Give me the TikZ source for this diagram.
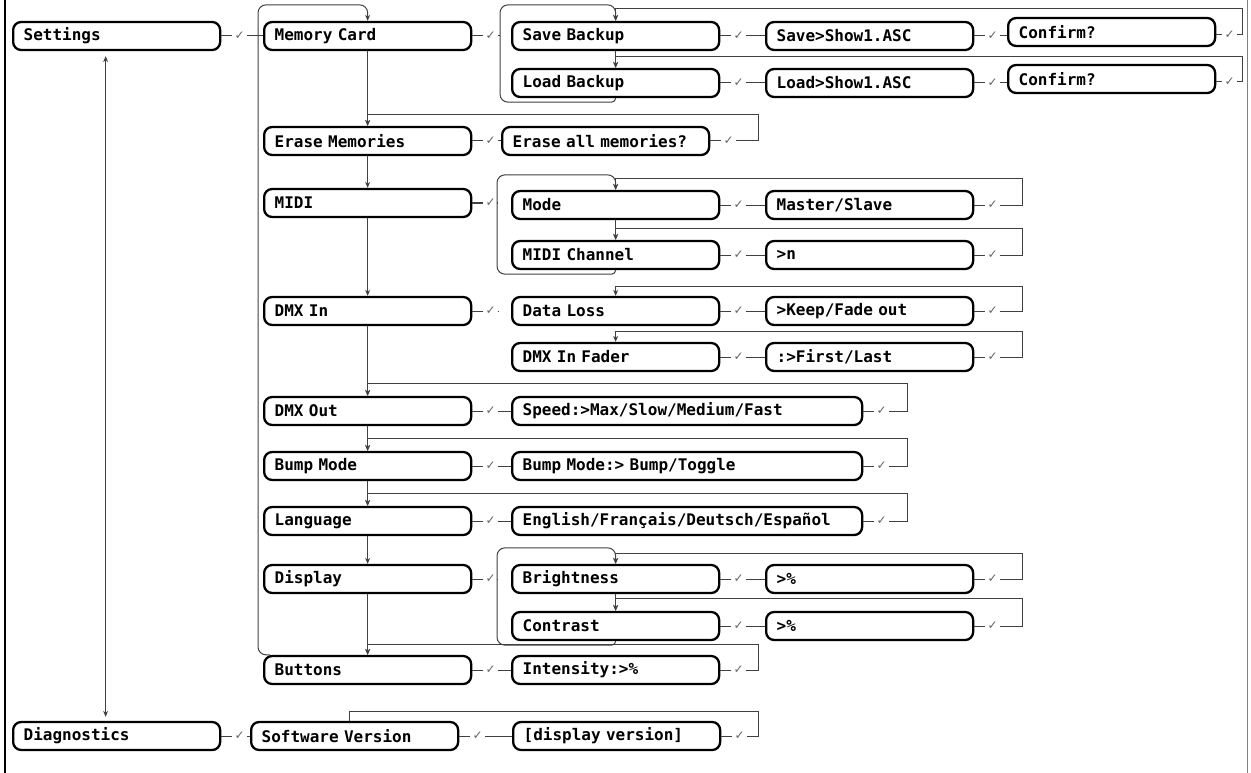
\documentclass[tikz,border=0pt]{standalone}
\usepackage{fontspec}
\usepackage{tikz}
\setmonofont{DejaVu Sans Mono}
\newfontfamily\ticksym{DejaVu Sans}
\usetikzlibrary{arrows.meta, positioning}
\definecolor{menugray}{RGB}{64,64,64}
\definecolor{tickgray}{RGB}{100,100,100}

\begin{document}
\begin{tikzpicture}[x=1pt, y=-1pt,
  item/.style={rectangle, rounded corners=8pt, draw=black, line width=2.3pt, anchor=west,
               minimum height=28pt, inner xsep=10.5pt, inner ysep=0pt, text width=#1, align=left,
               font=\ttfamily\bfseries\fontsize{16}{19}\selectfont},
  item/.default=186pt,
  ok/.style={font=\ticksym\fontsize{12}{12}\selectfont, text=tickgray, inner sep=2pt},
  link/.style={draw=menugray, line width=1pt},
  arrow/.style={link, -{Stealth[length=6pt, width=5pt]}}
]
\useasboundingbox (0,0) rectangle (1251,773);
\draw[line width=2.5pt] (5,0) -- (5,773);
\draw[gray, line width=0.8pt] (1247,0) -- (1247,773);

% top level
\node[item] (settings) at (12,36)  {Settings};
\node[item] (diag)     at (12,736) {Diagnostics};

% settings menu
\node[item] (memcard) at (263,36)  {Memory Card};
\node[item] (erase)   at (263,141) {Erase Memories};
\node[item] (midi)    at (263,203) {MIDI};
\node[item] (dmxin)   at (263,311) {DMX In};
\node[item] (dmxout)  at (263,411) {DMX Out};
\node[item] (bump)    at (263,466) {Bump Mode};
\node[item] (lang)    at (263,521) {Language};
\node[item] (disp)    at (263,579) {Display};
\node[item] (buttons) at (263,670) {Buttons};
\node[item] (software) at (250,736) {Software Version};

% sub menus
\node[item] (saveb)    at (511,36)  {Save Backup};
\node[item] (loadb)    at (511,83)  {Load Backup};
\node[item] (eraseall) at (501,141) {Erase all memories?};
\node[item] (mode)     at (511,205) {Mode};
\node[item] (midich)   at (511,255) {MIDI Channel};
\node[item] (dataloss) at (511,311) {Data Loss};
\node[item] (fader)    at (511,357) {DMX In Fader};
\node[item=329pt] (speed)   at (511,411) {Speed:>Max/Slow/Medium/Fast};
\node[item=329pt] (bumpsel) at (511,466) {Bump Mode:> Bump/Toggle};
\node[item=329pt] (langsel) at (511,521) {English/Français/Deutsch/Español};
\node[item] (bright)   at (511,579) {Brightness};
\node[item] (contrast) at (511,626) {Contrast};
\node[item] (intens)   at (511,670) {Intensity:>\%};
\node[item] (dispver)  at (512,736) {[display version]};

% values
\node[item] (savefile) at (765,36)  {Save>Show1.ASC};
\node[item] (loadfile) at (765,83)  {Load>Show1.ASC};
\node[item] (conf1)    at (1007,32) {Confirm?};
\node[item] (conf2)    at (1007,79) {Confirm?};
\node[item] (master)   at (765,205) {Master/Slave};
\node[item] (chan)     at (765,255) {>n};
\node[item] (keep)     at (765,311) {>Keep/Fade out};
\node[item] (first)    at (765,357) {:>First/Last};
\node[item] (brval)    at (765,579) {>\%};
\node[item] (ctval)    at (765,626) {>\%};

% ticks after every item
\foreach \n in {settings, memcard, erase, midi, dmxin, dmxout, bump, lang, disp, buttons,
                diag, software, saveb, loadb, savefile, loadfile, eraseall, mode, midich,
                master, chan, dataloss, fader, keep, first, speed, bumpsel, langsel,
                bright, contrast, brval, ctval, intens, dispver} {
  \node[ok, right=11pt of \n] (\n-ok) {✓};
  \draw[link] (\n) -- (\n-ok);
}
\foreach \n in {conf1, conf2} {
  \node[ok, right=6pt of \n, yshift=-3pt] (\n-ok) {✓};
  \draw[link] (\n.east |- \n-ok) -- (\n-ok);
}

\coordinate (gset)  at (258,36);
\coordinate (gmem)  at (500,36);
\coordinate (gmidi) at (497,203);
\coordinate (gdisp) at (497,579);
\coordinate (rimA) at (1242,0);
\coordinate (rimB) at (758,0);
\coordinate (rimC) at (1022,0);
\coordinate (rimD) at (907,0);

% tick to next item
\foreach \a/\b in {settings/memcard, saveb/savefile, loadb/loadfile,
                   erase/eraseall, mode/master, midich/chan, dataloss/keep,
                   fader/first, dmxout/speed, bump/bumpsel, lang/langsel, bright/brval,
                   contrast/ctval, buttons/intens, diag/software, software/dispver}
  \draw[link] (\a-ok) -- (\b);
\draw[link] (savefile-ok) -- (savefile-ok -| conf1.west);
\draw[link] (loadfile-ok) -- (loadfile-ok -| conf2.west);
\draw[link] (memcard-ok) -- (gmem);
\draw[link] (midi-ok) -- (gmidi);
\draw[link] (disp-ok) -- (gdisp);
\draw[link] (dmxin-ok) -- ++(7,0);

% next item in a menu
\foreach \a/\b in {memcard/erase, erase/midi, midi/dmxin, dmxin/dmxout, dmxout/bump,
                   bump/lang, lang/disp, disp/buttons, saveb/loadb, mode/midich, bright/contrast}
  \draw[arrow] (\a) -- (\b);

% back after confirming
\foreach \sel/\rim/\tgt/\rise in {conf1/rimA/saveb/12, conf2/rimA/loadb/11, eraseall/rimB/erase/11,
                                  master/rimC/mode/11, chan/rimC/midich/11, keep/rimC/dataloss/9,
                                  first/rimC/fader/10, speed/rimD/dmxout/12, bumpsel/rimD/bump/12,
                                  langsel/rimD/lang/12, brval/rimC/bright/10, ctval/rimC/contrast/12,
                                  intens/rimB/buttons/10}
  \draw[arrow] (\sel-ok) -- (\sel-ok -| \rim) |- ([yshift=\rise]\tgt.north) -- (\tgt.north);
\draw[link] (dispver-ok) -- (dispver-ok -| rimB) |- ([xshift=-5pt, yshift=9]software.north)
  -- ([xshift=-5pt]software.north);

% brackets round the sub menus
\draw[arrow, rounded corners=8pt] ([xshift=7pt]buttons.north west) -| (gset)
  |- ([yshift=16]memcard.north) -- (memcard.north);
\draw[arrow] (loadb.south) [rounded corners=4pt] -- ++(0,4) [rounded corners=8pt] -| (gmem)
  |- ([yshift=16]saveb.north) -- (saveb.north);
\draw[arrow] (midich.south) [rounded corners=4pt] -- ++(0,4) [rounded corners=8pt] -| (gmidi)
  |- ([yshift=15]mode.north) -- (mode.north);
\draw[arrow] (contrast.south) [rounded corners=4pt] -- ++(0,4) [rounded corners=8pt] -| (gdisp)
  |- ([yshift=16]bright.north) -- (bright.north);

\draw[link, {Stealth[length=6pt, width=5pt]}-{Stealth[length=6pt, width=5pt]},
      shorten <=5pt, shorten >=4pt] ([xshift=-11pt]settings.south) -- ([xshift=-11pt]diag.north);
\end{tikzpicture}
\end{document}
